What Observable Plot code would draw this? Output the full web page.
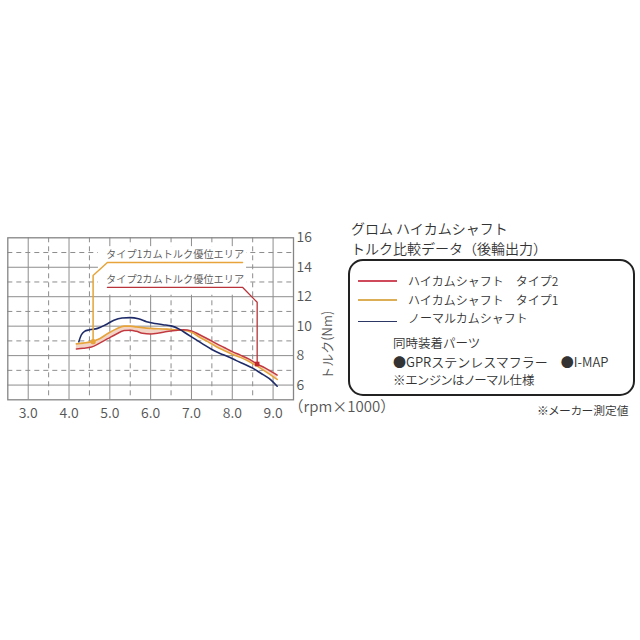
<!DOCTYPE html>
<html><head><meta charset="utf-8">
<script src="https://cdn.jsdelivr.net/npm/d3@7"></script>
<script src="https://cdn.jsdelivr.net/npm/@observablehq/plot@0.6"></script>
<style>
body{margin:0;background:#fff;}
#wrap{position:relative;width:640px;height:640px;overflow:hidden;background:#fff;font-family:"Noto Sans CJK JP DemiLight","Noto Sans CJK JP Light","Noto Sans CJK JP","Noto Sans",sans-serif;color:#333;}
#chart{position:absolute;left:0;top:0;}
.t{position:absolute;white-space:nowrap;line-height:1;font-weight:300;}
.p{font-feature-settings:"palt";}
.sw{position:absolute;height:1.6px;width:39px;left:358px;}
#box{position:absolute;left:348px;top:259px;width:287px;height:137px;box-sizing:border-box;border:2.6px solid #222;border-radius:15px;}
</style></head><body>
<div id="wrap">
<div id="chart"></div>
<div class="t" id="title1" style="left:351px;top:221px;font-size:14px;">グロム ハイカムシャフト</div>
<div class="t" id="title2" style="left:351px;top:240.5px;font-size:14px;">トルク比較データ（後輪出力）</div>
<div id="box"></div>
<div class="sw" id="sw0" style="top:280px;"></div>
<div class="sw" id="sw1" style="top:299.3px;"></div>
<div class="sw" id="sw2" style="top:320.5px;"></div>
<div class="t" id="lg0" style="left:408px;top:274.8px;font-size:12px;"></div>
<div class="t" id="lg1" style="left:408px;top:293.5px;font-size:12px;"></div>
<div class="t" id="lg2" style="left:408px;top:312.3px;font-size:12px;"></div>
<div class="t" id="n0" style="left:393px;top:337px;font-size:12.5px;"></div>
<div class="t" id="n1" style="left:393px;top:355.3px;font-size:13px;"></div>
<div class="t p" id="n2" style="left:393px;top:374px;font-size:12.5px;"></div>
<div class="t p" id="src" style="left:537px;top:404px;font-size:11.8px;"></div>
</div>
<script>
// ---- data ----
const rpmTicks = [3, 4, 5, 6, 7, 8, 9];
const rpmMinor = [3.5, 4.5, 5.5, 6.5, 7.5, 8.5];
const torqueMajor = [6, 8, 10, 12, 14];
const torqueMinor = [7, 9, 11, 13, 15];
const torqueTicks = [6, 8, 10, 12, 14, 16];

// shared rpm (x1000) for the two high-cam types
const rpmHigh = [4.18, 4.35, 4.55, 4.75, 4.95, 5.15, 5.35, 5.5, 5.65, 5.8, 6.0, 6.2, 6.4, 6.6, 6.8, 7.0, 7.2, 7.4, 7.6, 7.8, 8.0, 8.2, 8.4, 8.6, 8.8, 9.0, 9.1];
const type2 = [8.45, 8.5, 8.58, 8.85, 9.15, 9.45, 9.7, 9.72, 9.65, 9.52, 9.47, 9.53, 9.63, 9.7, 9.75, 9.68, 9.42, 9.13, 8.83, 8.55, 8.27, 8.03, 7.78, 7.44, 7.17, 6.85, 6.68];
const type1 = [8.8, 8.85, 8.95, 9.15, 9.5, 9.8, 10.0, 10.0, 9.95, 9.9, 9.85, 9.82, 9.8, 9.76, 9.72, 9.58, 9.25, 8.95, 8.62, 8.35, 8.1, 7.88, 7.62, 7.3, 6.95, 6.58, 6.38];
const rpmNormal = [4.24, 4.3, 4.38, 4.5, 4.7, 4.9, 5.1, 5.3, 5.5, 5.7, 5.9, 6.1, 6.3, 6.5, 6.7, 6.9, 7.1, 7.3, 7.5, 7.7, 7.9, 8.1, 8.3, 8.5, 8.7, 8.9, 9.1];
const normal = [8.95, 9.4, 9.65, 9.75, 9.85, 10.1, 10.4, 10.55, 10.58, 10.5, 10.3, 10.18, 10.1, 10.02, 9.8, 9.45, 9.1, 8.75, 8.42, 8.15, 7.93, 7.66, 7.42, 7.15, 6.8, 6.45, 5.92];

// annotation leaders (data coordinates)
const leader1X = [4.59, 4.59, 4.94, 8.25];
const leader1Y = [8.95, 13.44, 14.32, 14.32];
const leader2X = [8.61, 8.61, 8.25, 4.94];
const leader2Y = [7.43, 11.62, 12.64, 12.64];
const labelBoxX = [4.72, 8.35];
const labelBoxY = [12.1, 15.4];
const annoText = ["タイプ1カムトルク優位エリア", "タイプ2カムトルク優位エリア"];
const annoX = [6.6, 6.6];
const annoY = [14.82, 13.14];

const xUnit = "（rpm×1000）";
const yLabel = "トルク(Nm)";
const legendLabels = ["ハイカムシャフト　タイプ2", "ハイカムシャフト　タイプ1", "ノーマルカムシャフト"];
const notes = ["同時装着パーツ", "●GPRステンレスマフラー　●I-MAP", "※エンジンはノーマル仕様"];
const sourceNote = "※メーカー測定値";

// ---- colours ----
const cRed = "#c23a40", cOrange = "#e6a43a", cBlue = "#1e2b68", cBand = "#f3d5c8";
const legendColors = ["#cf4b5b", "#dcae55", "#2c3765"];
const grid = "#8d8d8d";

const band = rpmHigh.map((r, i) => ({rpm: r, t2: type2[i], t1: type1[i]}));
const nrm = rpmNormal.map((r, i) => ({rpm: r, v: normal[i]}));
const l1 = leader1X.map((x, i) => ({x, y: leader1Y[i]}));
const l2 = leader2X.map((x, i) => ({x, y: leader2Y[i]}));
const anno = annoText.map((t, i) => ({t, x: annoX[i], y: annoY[i]}));

const font = '"Noto Sans CJK JP DemiLight","Noto Sans CJK JP Light","Noto Sans CJK JP","Noto Sans",sans-serif';
const plot = Plot.plot({
  width: 640, height: 640,
  marginLeft: 7.3, marginRight: 347, marginTop: 237.3, marginBottom: 240.7,
  x: {domain: [2.5, 9.5]},
  y: {domain: [5, 16]},
  style: {fontFamily: font, fontSize: "14px", color: "#555", background: "transparent", fontWeight: 300},
  marks: [
    Plot.ruleX(rpmTicks, {stroke: grid, strokeWidth: 1}),
    Plot.ruleX(rpmMinor, {stroke: grid, strokeWidth: 1, strokeDasharray: "5,4"}),
    Plot.ruleY(torqueMajor, {stroke: grid, strokeWidth: 1}),
    Plot.ruleY(torqueMinor, {stroke: grid, strokeWidth: 1, strokeDasharray: "5,4"}),
    Plot.rect([0], {x1: () => labelBoxX[0], x2: () => labelBoxX[1], y1: () => labelBoxY[0], y2: () => labelBoxY[1], fill: "white"}),
    Plot.frame({stroke: "#858585", strokeWidth: 1.3}),
    Plot.areaY(band, {x: "rpm", y1: "t2", y2: "t1", fill: cBand, curve: "monotone-x"}),
    Plot.line(band, {x: "rpm", y: "t1", stroke: cOrange, strokeWidth: 1.6, curve: "monotone-x"}),
    Plot.line(band, {x: "rpm", y: "t2", stroke: cRed, strokeWidth: 1.5, curve: "monotone-x"}),
    Plot.line(nrm, {x: "rpm", y: "v", stroke: cBlue, strokeWidth: 1.6, curve: "monotone-x"}),
    Plot.line(l1, {x: "x", y: "y", stroke: cOrange, strokeWidth: 1.5}),
    Plot.line(l2, {x: "x", y: "y", stroke: "#b8343a", strokeWidth: 1.3}),
    Plot.dot([l1[0]], {x: "x", y: "y", r: 2.6, fill: cOrange}),
    Plot.dot([l2[0]], {x: "x", y: "y", r: 2.6, fill: "#c0262e", symbol: "square"}),
    Plot.text(anno, {x: "x", y: "y", text: "t", fontSize: 10.2, fill: "#555"}),
    Plot.axisX({ticks: rpmTicks, tickFormat: d => d.toFixed(1), tickSize: 0, tickPadding: 8, fontSize: 14}),
    Plot.axisY({anchor: "right", ticks: torqueTicks, tickSize: 0, tickPadding: 3, fontSize: 14}),
    Plot.text([yLabel], {text: d => d, frameAnchor: "right", dx: 34, dy: -8, rotate: -90, fontSize: 13, fill: "#555"}),
    Plot.text([xUnit], {text: d => d, frameAnchor: "bottom-right", textAnchor: "start", dx: -5, dy: 12, fontSize: 15, fill: "#555"})
  ]
});
document.getElementById("chart").appendChild(plot);

legendLabels.forEach((s, i) => {
  document.getElementById("lg" + i).textContent = s;
  document.getElementById("sw" + i).style.background = legendColors[i];
});
notes.forEach((s, i) => document.getElementById("n" + i).textContent = s);
document.getElementById("src").textContent = sourceNote;
</script>
</body></html>
